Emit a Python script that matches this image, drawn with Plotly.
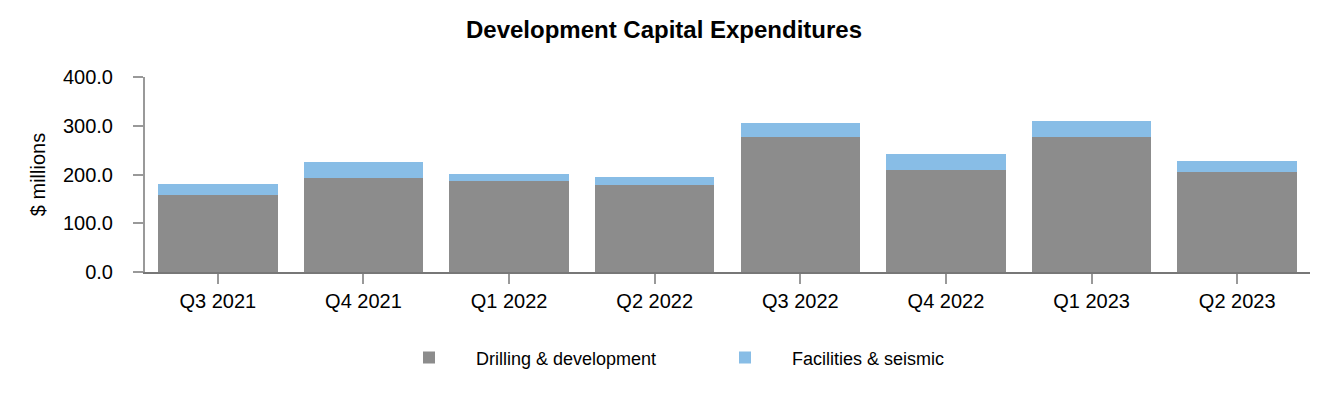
import plotly.graph_objects as go

quarters = ["Q3 2021", "Q4 2021", "Q1 2022", "Q2 2022", "Q3 2022", "Q4 2022", "Q1 2023", "Q2 2023"]
drilling = [157, 193, 186, 178, 276, 210, 276, 206]
facilities = [24, 33, 16, 16, 29, 33, 33, 21]
y_ticks = [0, 100, 200, 300, 400]

W, H = 1324, 392
L, R, T, B = 137, 22, 69, 128
pw = W - L - R

fig = go.Figure()
fig.add_trace(go.Bar(x=quarters, y=drilling, name="Drilling & development",
                     marker=dict(color="#8c8c8c", line=dict(width=0))))
fig.add_trace(go.Bar(x=quarters, y=facilities, name="Facilities & seismic",
                     marker=dict(color="#88bde6", line=dict(width=0))))

fig.update_layout(
    barmode="stack",
    bargap=0.18,
    width=W, height=H,
    margin=dict(l=L, r=R, t=T, b=B, autoexpand=False),
    paper_bgcolor="white", plot_bgcolor="white",
    font=dict(family="Liberation Sans, Arial, sans-serif", size=20, color="#000"),
    title=dict(text="<b>Development Capital Expenditures</b>", x=656 / W, xanchor="center",
               y=1 - 22 / H, yanchor="middle", font=dict(size=24)),
    showlegend=True,
    legend=dict(orientation="h", x=(404 - L - 30) / pw, xanchor="left", y=-0.345, yanchor="top",
                font=dict(size=18), itemwidth=84, entrywidth=217, traceorder="normal"),
)
fig.update_xaxes(showline=True, linecolor="#777", linewidth=2, ticks="outside",
                 ticklen=10, tickcolor="#999", tickwidth=2, showgrid=False,
                 tickfont=dict(size=20), automargin=False)
fig.update_yaxes(range=[0, 400], tickvals=y_ticks, tickformat=".1f", showline=True,
                 linecolor="#999", linewidth=2, ticks="outside", ticklen=10,
                 tickcolor="#999", tickwidth=2, showgrid=False, zeroline=False,
                 ticklabelstandoff=16, automargin=False,
                 title=dict(text="$ millions", font=dict(size=20), standoff=12),
                 tickfont=dict(size=20))

fig.write_html("out.html")
